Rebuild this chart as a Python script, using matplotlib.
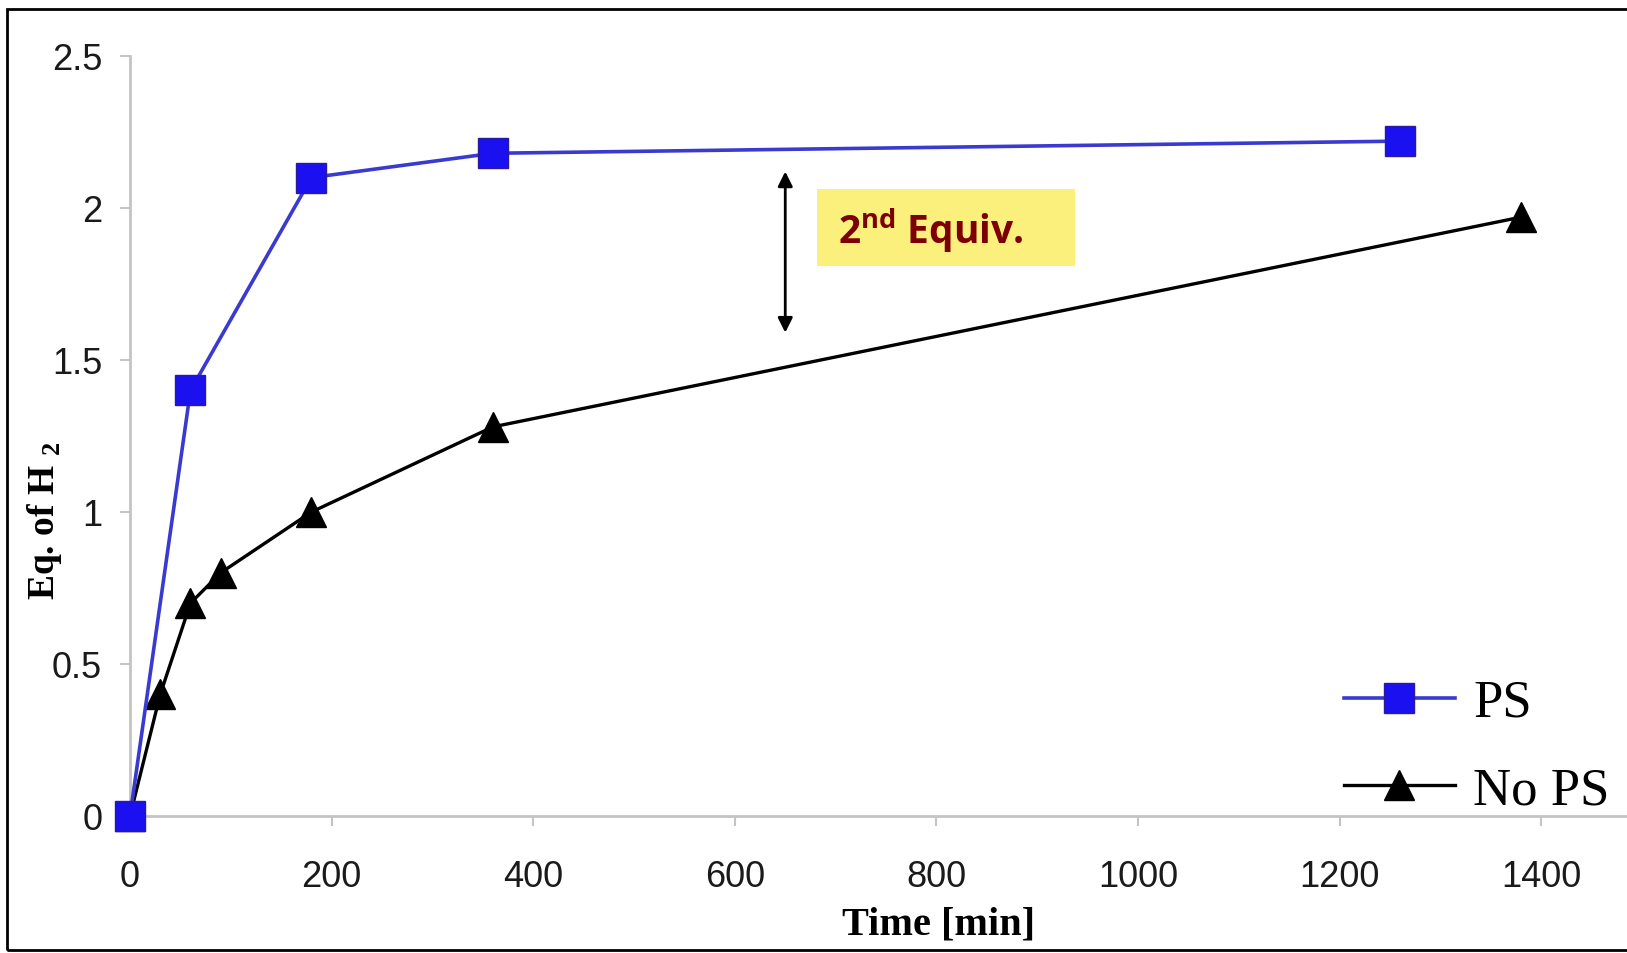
import matplotlib
matplotlib.use("Agg")
import matplotlib.pyplot as plt
from matplotlib.patches import Rectangle
from matplotlib.lines import Line2D

# data
ps_time = [0, 60, 180, 360, 1260]
ps_eq = [0, 1.40, 2.10, 2.18, 2.22]
nops_time = [0, 30, 60, 90, 180, 360, 1380]
nops_eq = [0, 0.40, 0.70, 0.80, 1.00, 1.28, 1.97]
x_ticks = [0, 200, 400, 600, 800, 1000, 1200, 1400]
y_ticks = [0, 0.5, 1, 1.5, 2, 2.5]
y_tick_labels = ["0", "0.5", "1", "1.5", "2", "2.5"]

plt.rcParams["mathtext.fontset"] = "custom"
plt.rcParams["mathtext.rm"] = "Liberation Serif:bold"
plt.rcParams["mathtext.bf"] = "Open Sans:bold"

fig = plt.figure(figsize=(16.27, 9.54), dpi=100)
ax = fig.add_axes([130 / 1627, 137 / 954, 1497 / 1627, 760 / 954])

blue_line = "#3a3ad0"
blue_face = "#1a10f0"

ax.plot(ps_time, ps_eq, color=blue_line, lw=2.6, marker="s", ms=21,
        mfc=blue_face, mec="#2a1aa0", mew=1, clip_on=False, zorder=4)
ax.plot(nops_time, nops_eq, color="black", lw=2.4, marker="^", ms=22,
        mfc="black", mec="black", clip_on=False, zorder=3)

ax.set_xlim(0, 1485)
ax.set_ylim(0, 2.5)
ax.set_xticks(x_ticks)
ax.set_yticks(y_ticks)
ax.set_yticklabels(y_tick_labels)

for s in ["top", "right"]:
    ax.spines[s].set_visible(False)
for s in ["left", "bottom"]:
    ax.spines[s].set_color("#c4c4c4")
    ax.spines[s].set_linewidth(2)
ax.tick_params(axis="both", colors="#c4c4c4", length=7, width=1.5,
               labelcolor="#1a1a1a", labelsize=26)
ax.tick_params(axis="y", pad=13)
ax.tick_params(axis="x", pad=24)
for lab in ax.get_xticklabels() + ax.get_yticklabels():
    lab.set_family("Liberation Sans")

ax.set_xlabel("Time [min]", family="Liberation Serif", fontweight="bold",
              fontsize=29)
ax.xaxis.set_label_coords(0.54, -0.118)
ax.set_ylabel("Eq. of H $_2$", family="Liberation Serif", fontweight="bold",
              fontsize=27)
ax.yaxis.set_label_coords(-0.044, 0.39)

# annotation: arrow + yellow box
ax.annotate("", xy=(650, 2.12), xytext=(650, 1.59),
            arrowprops=dict(arrowstyle="<|-|>", color="black", lw=2,
                            mutation_scale=22, shrinkA=0, shrinkB=0))
ax.add_patch(Rectangle((681, 1.81), 256, 0.253, facecolor="#fbf07c",
                       edgecolor="none", zorder=2))
ax.text(702, 1.885, r"$\mathbf{2^{nd}}$ Equiv.", family="Open Sans",
        fontweight="bold", fontsize=28, color="#7d0000", va="baseline",
        zorder=5)

handles = [
    Line2D([], [], color=blue_line, lw=2.6, marker="s", ms=21,
           mfc=blue_face, mec="#2a1aa0"),
    Line2D([], [], color="black", lw=2.4, marker="^", ms=22, mfc="black"),
]
fig.legend(handles, ["PS", "No PS"], loc="upper left",
           bbox_to_anchor=(1344 / 1627, 1 - 680 / 954), frameon=False,
           prop={"family": "Liberation Serif", "size": 38},
           handlelength=2.1, handletextpad=0.35, labelspacing=0.75,
           borderpad=0, borderaxespad=0)

# outer frame
fig.add_artist(Rectangle((7 / 1627, 3 / 954), 1.0, 941 / 954,
                         transform=fig.transFigure, fill=False,
                         edgecolor="black", lw=2, clip_on=False))

fig.savefig("out.png", dpi=100)
